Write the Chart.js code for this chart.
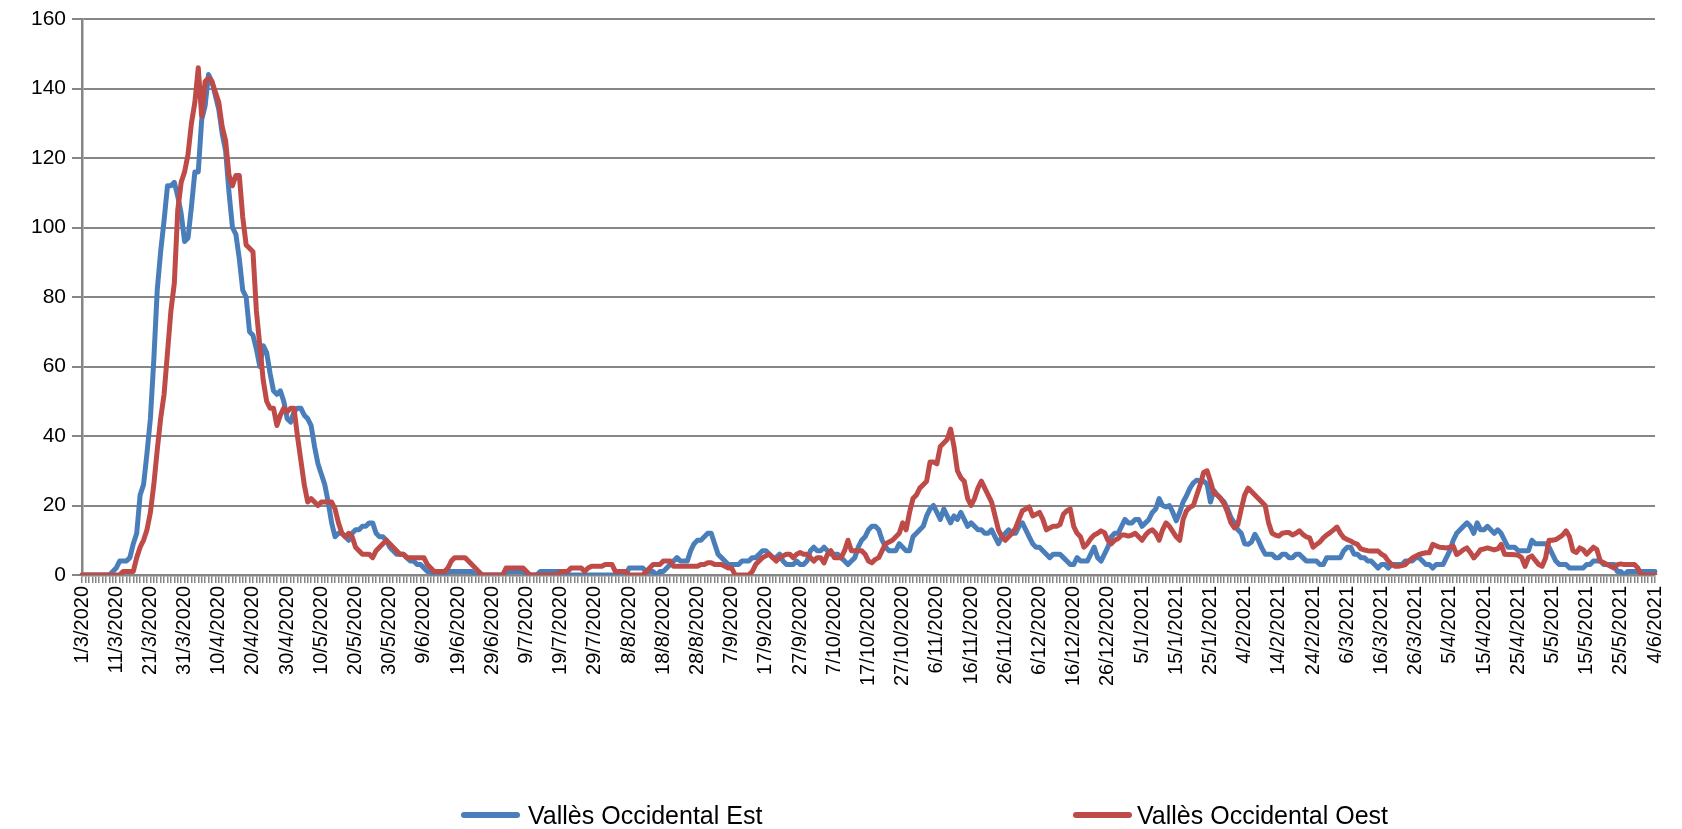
<!DOCTYPE html>
<html>
<head>
<meta charset="utf-8">
<title>Vallès Occidental</title>
<script src="https://cdn.jsdelivr.net/npm/chart.js@4.4.1/dist/chart.umd.min.js"></script>
<style>
  html, body { margin: 0; padding: 0; background: #fff; }
  #wrap { position: relative; width: 1682px; height: 829px; }
  #chart { display: block; }
  #legend { position: absolute; left: 0; top: 0; width: 1682px; height: 829px; pointer-events: none; }
  .lg-line { position: absolute; height: 6px; border-radius: 3px; }
  .lg-text { position: absolute; font-family: "Liberation Sans", Arial, sans-serif; font-size: 25px; line-height: 30px; color: #000; white-space: nowrap; }
</style>
</head>
<body>
<div id="wrap">
  <canvas id="chart" width="1682" height="829"></canvas>
  <div id="legend"></div>
</div>
<script>
// ------------------------------------------------------------
// Daily series, 1/3/2020 .. 4/6/2021 (461 days)
// ------------------------------------------------------------

const START_DATE = [2020, 2, 1];   // 1/3/2020
const DAY_COUNT = 461;
const LABEL_EVERY = 10;

const seriesNames = ["Vallès Occidental Est", "Vallès Occidental Oest"];
const seriesColors = ["#4a7ebb", "#be4b48"];

const yTicks = { min: 0, max: 160, step: 20 };

const estValues = [
  0,0,0,0,0,0,0,0,0,1,                      // 1/3
  2,4,4,4,5,9,12,23,26,35,                  // 11/3
  45,62,82,93,102,112,112,113,109,104,      // 21/3
  96,97,106,116,116,131,135,144,142,138,    // 31/3
  134,127,122,110,100,98,91,82,80,70,       // 10/4
  69,65,60,66,64,58,53,52,53,50,            // 20/4
  45,44,47,48,48,46,45,43,37,32,            // 30/4
  29,26,21,15,11,12,12,11,10,12,            // 10/5
  13,13,14,14,15,15,12,11,11,10,            // 20/5
  8,7,6,6,6,5,4,4,3,3,                      // 30/5
  2,1,1,0,0,0,0,1,1,1,                      // 9/6
  1,1,1,1,1,0,0,0,0,0,                      // 19/6
  0,0,0,0,1,1,1,1,1,1,                      // 29/6
  0,0,0,0,1,1,1,1,1,1,                      // 9/7
  1,0,0,0,0,0,0,0,0,0,                      // 19/7
  0,0,0,0,0,0,0,0,0,0,                      // 29/7
  2,2,2,2,2,1,1,1,0,1,                      // 8/8
  1,2,3,4,5,4,4,4,7,9,                      // 18/8
  10,10,11,12,12,9,6,5,4,3,                 // 28/8
  3,3,3,4,4,4,5,5,6,7,                      // 7/9
  7,6,5,5,6,4,3,3,3,4,                      // 17/9
  3,3,4,7,8,7,7,8,7,6,                      // 27/9
  6,6,5,4,3,4,5,8,10,11,                    // 7/10
  13,14,14,13,10,8,7,7,7,9,                 // 17/10
  8,7,7,11,12,13,14,17,19,20,               // 27/10
  18,16,19,17,15,17,16,18,16,14,            // 6/11
  15,14,13,13,12,12,13,11,9,11,             // 16/11
  12,13,12,12,14,15,13,11,9,8,              // 26/11
  8,7,6,5,6,6,6,5,4,3,                      // 6/12
  3,5,4,4,4,6,8,5,4,6,                      // 16/12
  8,11,12,12,14,16,15,15,16,16,             // 26/12
  14,15,16,18,19,22,20,19.6,20,18,          // 5/1
  15.6,18,21,22.8,25,26.5,27.3,27.1,27,26.2,// 15/1
  21,24.3,23,22,21,19,16.5,15,13,12,        // 25/1
  9,8.8,9.5,11.7,10,7.8,6,6,6,5,            // 4/2
  5,6,6,5,5,6,6,5,4,4,                      // 14/2
  4,4,3,3,5,5,5,5,5,7,                      // 24/2
  8,8,6,6,5,5,4,4,3,2,                      // 6/3
  3,3,2,3,3,3,3,4,4,4,                      // 16/3
  5,5,4,3,3,2,3,3,3,5,                      // 26/3
  7,10,12,13,14,15,14,12,15,13,             // 5/4
  13,14,13,12,13,12,10,8,8,8,               // 15/4
  7,7,7,7,10,9,9,9,9,8,                     // 25/4
  6,4,3,3,3,2,2,2,2,2,                      // 5/5
  3,3,4,4,4,3,3,3,3,1,                      // 15/5
  1,0,1,1,1,1,1,1,1,1,                      // 25/5
  1                                         // 4/6
];

const oestValues = [
  0,0,0,0,0,0,0,0,0,0,                      // 1/3
  0,0,1,1,1,1,5,8,10,13,                    // 11/3
  18,26,36,45,52,64,76,84,105,113,          // 21/3
  116,121,130,136,146,132,142,143,142,139,  // 31/3
  136,129,125,115,112,115,115,103,95,94,    // 10/4
  93,76,66,56,50,48,48,43,46,48,            // 20/4
  47,48,48,40,33,26,21,22,21,20,            // 30/4
  21,21,21,21,19,15,12,11,12,11,            // 10/5
  8,7,6,6,6,5,7,8,9,10,                     // 20/5
  9,8,7,6,6,5,5,5,5,5,                      // 30/5
  5,3,2,1,1,1,1,2,4,5,                      // 9/6
  5,5,5,4,3,2,1,0,0,0,                      // 19/6
  0,0,0,0,2,2,2,2,2,2,                      // 29/6
  1,0,0,0,0,0,0,0,0,0,                      // 9/7
  1,1,1,2,2,2,2,1,2,2.5,                    // 19/7
  2.5,2.5,2.5,3,3,3,1,1,1,1,                // 29/7
  0,0,0,0,0,1,2,3,3,3,                      // 8/8
  4,4,4,2.5,2.5,2.5,2.5,2.5,2.5,2.5,        // 18/8
  2.5,3,3,3.5,3.5,3,3,3,2.5,2,              // 28/8
  2,0,0,0,0,0,1,3,4,5,                      // 7/9
  5.5,6,5,4,5,5.5,6,6,5,6,                  // 17/9
  6.5,6,6,5,4,5,5,3.5,6,7,                  // 27/9
  5,5,5,7,10,7,7,7,7,6,                     // 7/10
  4,3.5,4.5,5,7,9,9.5,10,11,12,             // 17/10
  15,13,18,22,23,25,26,27,32.5,32.5,        // 27/10
  32,37,38,39,42,37,30,28,27,22,            // 6/11
  20,22,25,27,25,23,21,17,13,11,            // 16/11
  10,11,12,13.5,16,18.5,19,19.6,17,17.5,    // 26/11
  18,16,13,13.5,14,14,14.5,17.5,18.5,19,    // 6/12
  14,12,11,8,9,10.5,11.5,12,12.7,12.2,      // 16/12
  10,9,10,10.5,11.5,11.5,11.2,11.5,12,11,   // 26/12
  10,11.5,12.5,13,12,10,13,15,14,12.5,      // 5/1
  11,10,16,18.5,19.5,20,23,26,29.5,30,      // 15/1
  27,23.5,23,22,20.5,18,15,13.6,14.5,19,    // 25/1
  23,25,24,23,22,21,20,15,12,11.5,          // 4/2
  11.2,12,12.2,12.2,11.5,12,12.7,11.7,11,10.7, // 14/2
  8,8.8,9.5,10.7,11.5,12.2,13,13.8,12,10.7, // 24/2
  10.2,9.8,9.2,8.8,7.5,7.2,7,6.9,6.9,6.9,   // 6/3
  6,5.4,4,3,2.5,2.5,2.7,3,4,4.9,            // 16/3
  5.4,5.9,6.2,6.4,6.4,8.8,8.4,8,7.9,7.8,    // 26/3
  8,8.3,5.9,6.5,7.3,7.8,6.5,4.9,6,7.3,      // 5/4
  7.5,7.8,7.5,7.2,7.5,8.8,6,5.9,5.9,5.8,    // 15/4
  5.7,5,2.5,5,5.5,4.2,3,2.5,4.9,10,         // 25/4
  10,10.2,10.8,11.5,12.7,11,7,6.5,7.8,7.3,  // 5/5
  6,7,8,7.3,4,3.5,3,2.5,2,3,                // 15/5
  3.2,3,3,3,3,2,0,0,0,0,                    // 25/5
  0                                         // 4/6
];

// Category labels d/m/yyyy, one per day
function buildDayLabels() {
    const out = [];
    for (let i = 0; i < DAY_COUNT; i++) {
        const d = new Date(START_DATE[0], START_DATE[1], START_DATE[2] + i);
        out.push(d.getDate() + '/' + (d.getMonth() + 1) + '/' + d.getFullYear());
    }
    return out;
}
const dayLabels = buildDayLabels();

// Legend drawn as HTML under the canvas, built from the chart's datasets
const legendSpots = [ { line: 461, text: 528 }, { line: 1073, text: 1137 } ];
const htmlLegend = {
    id: 'htmlLegend',
    afterUpdate(chart) {
        const box = document.getElementById('legend');
        box.innerHTML = '';
        chart.data.datasets.forEach((ds) => {
            const spot = legendSpots[ds.legendIndex];
            const line = document.createElement('div');
            line.className = 'lg-line';
            line.style.left = spot.line + 'px';
            line.style.width = '59px';
            line.style.top = '812px';
            line.style.background = ds.borderColor;
            const txt = document.createElement('div');
            txt.className = 'lg-text';
            txt.style.left = spot.text + 'px';
            txt.style.top = '800px';
            txt.textContent = ds.label;
            box.appendChild(line);
            box.appendChild(txt);
        });
    }
};

Chart.defaults.font.family = "'Liberation Sans', Arial, sans-serif";
Chart.defaults.color = '#000';

const axisGray = '#868686';

new Chart(document.getElementById('chart'), {
    type: 'line',
    data: {
        labels: dayLabels,
        datasets: [
            {
                label: seriesNames[1],
                data: oestValues,
                borderColor: seriesColors[1],
                backgroundColor: seriesColors[1],
                legendIndex: 1,
                order: 1
            },
            {
                label: seriesNames[0],
                data: estValues,
                borderColor: seriesColors[0],
                backgroundColor: seriesColors[0],
                legendIndex: 0,
                order: 2
            }
        ]
    },
    options: {
        responsive: false,
        animation: false,
        devicePixelRatio: 1,
        layout: { padding: { top: 19, right: 16, left: 0, bottom: 0 } },
        elements: {
            line: { borderWidth: 5, tension: 0, borderJoinStyle: 'round', borderCapStyle: 'round', fill: false },
            point: { radius: 0, hoverRadius: 0 }
        },
        plugins: {
            legend: { display: false },
            tooltip: { enabled: false }
        },
        scales: {
            x: {
                type: 'category',
                offset: false,
                grid: {
                    offset: false,
                    drawOnChartArea: false,
                    drawTicks: true,
                    tickLength: 8,
                    color: axisGray,
                    lineWidth: 1.5
                },
                border: { display: true, color: axisGray, width: 2.5 },
                ticks: {
                    autoSkip: false,
                    minRotation: 90,
                    maxRotation: 90,
                    padding: 3,
                    font: { size: 20 },
                    color: '#000',
                    callback: (value, index) => index % LABEL_EVERY === 0 ? dayLabels[index] : ''
                },
                afterFit: (scale) => { scale.height = 254; }
            },
            y: {
                min: yTicks.min,
                max: yTicks.max,
                grid: {
                    color: axisGray,
                    lineWidth: 2,
                    drawTicks: true,
                    tickLength: 10
                },
                border: { display: true, color: axisGray, width: 2.5 },
                ticks: {
                    stepSize: yTicks.step,
                    padding: 6,
                    font: { size: 21 },
                    color: '#000'
                },
                afterFit: (scale) => { scale.width = 82; }
            }
        }
    },
    plugins: [htmlLegend]
});
</script>
</body>
</html>
